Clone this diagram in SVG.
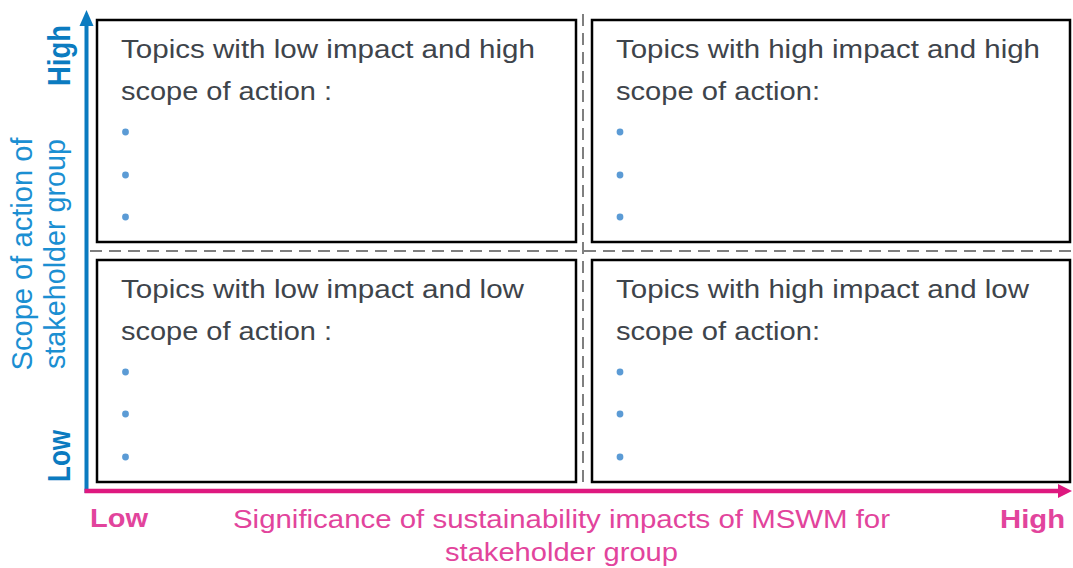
<svg xmlns="http://www.w3.org/2000/svg" width="1073" height="568" viewBox="0 0 1073 568">
  <style>
    .box { fill: #ffffff; stroke: #000000; stroke-width: 2.5; }
    .grid { stroke: #7f7f7f; stroke-width: 2; stroke-dasharray: 12 7; fill: none; }
    .body { font-family: "Liberation Sans", Arial, sans-serif; font-size: 26px; fill: #3e444b; }
    .dot { fill: #5b9bd5; }
    .ylab { font-family: "Liberation Sans", Arial, sans-serif; font-size: 27px; fill: #1b8fd2; }
    .yend { font-family: "Liberation Sans", Arial, sans-serif; font-size: 27px; font-weight: bold; fill: #0b7bc0; }
    .xlab { font-family: "Liberation Sans", Arial, sans-serif; font-size: 26px; fill: #e2449c; }
    .xend { font-family: "Liberation Sans", Arial, sans-serif; font-size: 26px; font-weight: bold; fill: #e2449c; }
  </style>
  <defs>
    <marker id="headBlue" markerUnits="userSpaceOnUse" markerWidth="16" markerHeight="16" refX="2" refY="8" orient="auto" viewBox="0 0 16 16">
      <polygon points="0,1 16,8 0,15" fill="#0b7bc0"/>
    </marker>
    <marker id="headPink" markerUnits="userSpaceOnUse" markerWidth="16" markerHeight="16" refX="2" refY="8" orient="auto" viewBox="0 0 16 16">
      <polygon points="0,1 14,8 0,15" fill="#de187f"/>
    </marker>
  </defs>

  <!-- quadrant separators -->
  <g id="grid">
    <line class="grid" x1="583" y1="14" x2="583" y2="489"/>
    <line class="grid" x1="90" y1="251" x2="1073" y2="251"/>
  </g>

  <!-- axes -->
  <g id="connectors">
    <line x1="86.5" y1="493" x2="86.5" y2="24" stroke="#0b7bc0" stroke-width="4" marker-end="url(#headBlue)"/>
    <line x1="84.5" y1="491" x2="1060" y2="491" stroke="#de187f" stroke-width="4.5" marker-end="url(#headPink)"/>
  </g>

  <g id="q-low-high">
    <rect class="box" x="97" y="20" width="479" height="222"/>
    <text class="body" x="121" y="58" textLength="414" lengthAdjust="spacingAndGlyphs">Topics with low impact and high</text>
    <text class="body" x="121" y="100" textLength="211" lengthAdjust="spacingAndGlyphs">scope of action :</text>
    <circle class="dot" cx="125.5" cy="132" r="3.4"/>
    <circle class="dot" cx="125.5" cy="175" r="3.4"/>
    <circle class="dot" cx="125.5" cy="217" r="3.4"/>
  </g>

  <g id="q-high-high">
    <rect class="box" x="592" y="20" width="478" height="222"/>
    <text class="body" x="616" y="58" textLength="424" lengthAdjust="spacingAndGlyphs">Topics with high impact and high</text>
    <text class="body" x="616" y="100" textLength="204" lengthAdjust="spacingAndGlyphs">scope of action:</text>
    <circle class="dot" cx="620" cy="132" r="3.4"/>
    <circle class="dot" cx="620" cy="175" r="3.4"/>
    <circle class="dot" cx="620" cy="217" r="3.4"/>
  </g>

  <g id="q-low-low">
    <rect class="box" x="97" y="260" width="479" height="222"/>
    <text class="body" x="121" y="298" textLength="403" lengthAdjust="spacingAndGlyphs">Topics with low impact and low</text>
    <text class="body" x="121" y="340" textLength="211" lengthAdjust="spacingAndGlyphs">scope of action :</text>
    <circle class="dot" cx="125.5" cy="372" r="3.4"/>
    <circle class="dot" cx="125.5" cy="414" r="3.4"/>
    <circle class="dot" cx="125.5" cy="457" r="3.4"/>
  </g>

  <g id="q-high-low">
    <rect class="box" x="592" y="260" width="478" height="222"/>
    <text class="body" x="616" y="298" textLength="413" lengthAdjust="spacingAndGlyphs">Topics with high impact and low</text>
    <text class="body" x="616" y="340" textLength="204" lengthAdjust="spacingAndGlyphs">scope of action:</text>
    <circle class="dot" cx="620" cy="372" r="3.4"/>
    <circle class="dot" cx="620" cy="414" r="3.4"/>
    <circle class="dot" cx="620" cy="457" r="3.4"/>
  </g>

  <!-- vertical axis labels -->
  <g id="y-axis-labels">
    <text class="yend" text-anchor="middle" textLength="61" lengthAdjust="spacingAndGlyphs" transform="translate(70,55.5) scale(1.15,1) rotate(-90)">High</text>
    <text class="yend" text-anchor="middle" textLength="52" lengthAdjust="spacingAndGlyphs" transform="translate(70,456) scale(1.15,1) rotate(-90)">Low</text>
    <text class="ylab" text-anchor="middle" textLength="233" lengthAdjust="spacingAndGlyphs" transform="translate(32,254) scale(1.12,1) rotate(-90)">Scope of action of</text>
    <text class="ylab" text-anchor="middle" textLength="230" lengthAdjust="spacingAndGlyphs" transform="translate(65,254) scale(1.12,1) rotate(-90)">stakeholder group</text>
  </g>

  <!-- horizontal axis labels -->
  <g id="x-axis-labels">
    <text class="xend" x="90" y="527" textLength="58" lengthAdjust="spacingAndGlyphs">Low</text>
    <text class="xlab" x="233" y="528" textLength="657" lengthAdjust="spacingAndGlyphs">Significance of sustainability impacts of MSWM for</text>
    <text class="xlab" x="445" y="561" textLength="233" lengthAdjust="spacingAndGlyphs">stakeholder group</text>
    <text class="xend" x="1000" y="528" textLength="65" lengthAdjust="spacingAndGlyphs">High</text>
  </g>
</svg>
